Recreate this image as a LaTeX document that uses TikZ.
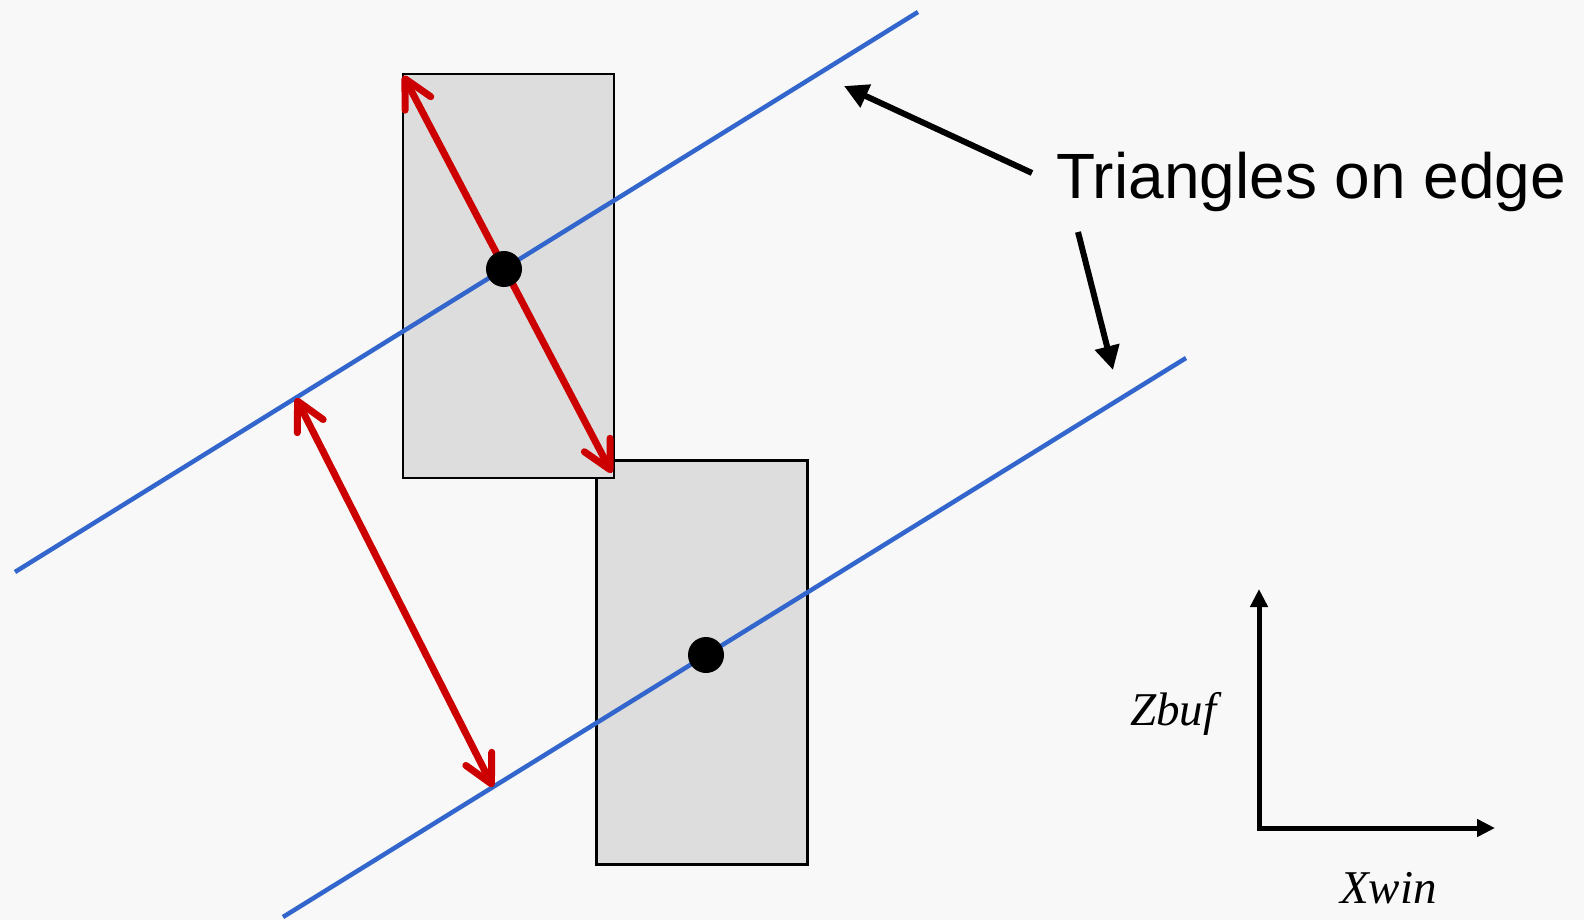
\documentclass[tikz,border=0pt]{standalone}
\usepackage{fontspec}
\setmainfont{Liberation Sans}
\newfontfamily\serifit{Liberation Serif}
\usepackage{tikz}
\usetikzlibrary{arrows.meta}

\definecolor{bgGray}{HTML}{F8F8F8}
\definecolor{boxGray}{HTML}{DDDDDD}
\definecolor{edgeBlue}{HTML}{3366CC}
\definecolor{spanRed}{HTML}{CC0000}

\begin{document}
\begin{tikzpicture}[
    x=1pt, y=-1pt,
    zbox/.style={
        draw=black,
        fill=boxGray,
        line width=2.2pt,
        minimum width=211pt,
        minimum height=404pt,
        inner sep=0pt
    },
    vertex/.style={
        circle,
        fill=black,
        minimum size=36pt,
        inner sep=0pt
    },
    edgeline/.style={
        draw=edgeBlue,
        line width=4.5pt
    },
    span/.style={
        draw=spanRed,
        line width=7pt,
        line cap=round,
        {Straight Barb[length=28pt, width=29pt, round]}-{Straight Barb[length=28pt, width=29pt, round]}
    },
    callout/.style={
        line width=6pt,
        -{Triangle[length=24pt, width=24pt]}
    },
    axis/.style={
        line width=5pt,
        {Triangle[length=18pt, width=17pt]}-{Triangle[length=18pt, width=17pt]}
    },
    axlabel/.style={
        font=\serifit\itshape\fontsize{47}{52}\selectfont,
        inner sep=0pt,
        anchor=base west
    }
]

    % Background
    \fill[bgGray] (0,0) rectangle (1584,920);

    % Depth boxes (lower one first, upper one covers its corner)
    \node[zbox] (box2) at (702,662.5) {};
    \node[zbox] (box1) at (508.5,276) {};

    % Triangles seen edge-on
    \coordinate (l1a) at (15,572);
    \coordinate (l1b) at (918,12);
    \coordinate (l2a) at (283,917);
    \coordinate (l2b) at (1186,358);
    \draw[edgeline] (l1a) -- (l1b);
    \draw[edgeline] (l2a) -- (l2b);

    % Depth spans
    \coordinate (s1) at (296,398);
    \coordinate (s2) at (493,787);
    \draw[span, shorten <=3pt, shorten >=7pt] (box1.north west) -- (box1.south east);
    \draw[span] (s1) -- (s2);

    % Pixel centres
    \node[vertex] (v1) at (504,269) {};
    \node[vertex] (v2) at (706,655) {};

    % Label and callouts
    \node[font=\fontsize{64}{70}\selectfont, anchor=base west, inner sep=0pt] (lbl) at (1056,199) {Triangles on edge};
    \coordinate (tip1) at (844,86);
    \coordinate (tip2) at (1113,370);
    \draw[callout] ([xshift=-24pt, yshift=26pt]lbl.base west) -- (tip1);
    \draw[callout] ([xshift=22pt, yshift=-33pt]lbl.base west) -- (tip2);

    % Axes
    \coordinate (orig) at (1259,828);
    \coordinate (ztip) at (1259,589);
    \coordinate (xtip) at (1495,828);
    \draw[axis] (ztip) -- (orig) -- (xtip);
    \node[axlabel] (zlab) at (1130,725) {Zbuf};
    \node[axlabel] (xlab) at (1340,903) {Xwin};

\end{tikzpicture}
\end{document}
